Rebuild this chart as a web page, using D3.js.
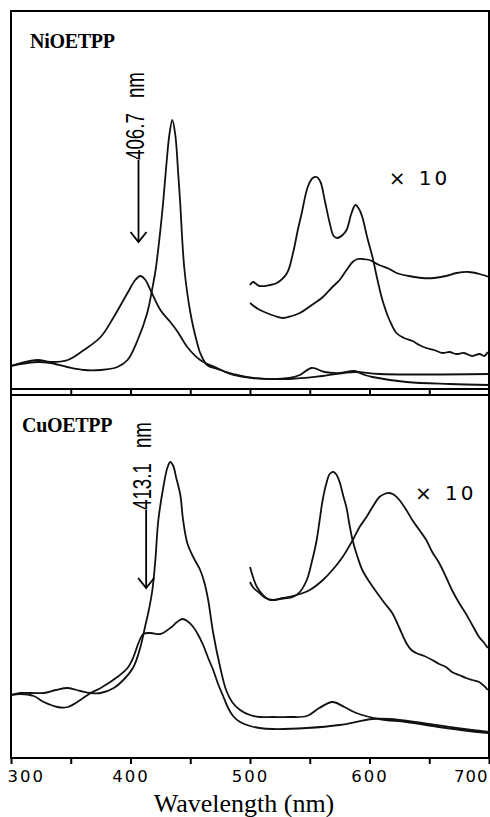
<!DOCTYPE html>
<html>
<head>
<meta charset="utf-8">
<script src="https://cdn.jsdelivr.net/npm/d3@7"></script>
<style>
  body { margin: 0; background: #fff; }
  svg { display: block; }
</style>
</head>
<body>
<div id="chart"></div>
<script>
// wavelength axis
const tickValues = [300, 350, 400, 450, 500, 550, 600, 650, 700];
const tickLabels = [300, 400, 500, 600, 700];

// NiOETPP (top panel), [wavelength nm, absorbance arb.]
const niSharp = [
  [300, 0.115], [308, 0.125], [322, 0.135], [333, 0.13], [347, 0.11], [361, 0.095],
  [375, 0.095], [389, 0.11], [397.5, 0.145], [406, 0.245], [414, 0.38], [418, 0.495],
  [421, 0.595], [425, 0.795], [427.5, 0.945], [430, 1.12], [432.5, 1.27], [435, 1.345],
  [437.5, 1.27], [440, 1.07], [441.7, 0.92], [443.3, 0.745], [445, 0.605], [447.5, 0.48],
  [450, 0.385], [452.5, 0.31], [455.8, 0.23], [458.3, 0.18], [464, 0.12], [472.5, 0.10],
  [486, 0.075], [502.5, 0.055], [533, 0.055], [541.7, 0.07], [551.7, 0.105], [562.5, 0.085],
  [575, 0.08], [587.5, 0.09], [596, 0.07], [602.5, 0.06], [631, 0.035], [667, 0.025], [700, 0.02]
];
const niBroad = [
  [300, 0.115], [308, 0.13], [322.5, 0.145], [333, 0.135], [347.5, 0.145], [361, 0.195],
  [375, 0.26], [386, 0.36], [397.5, 0.48], [404, 0.545], [408.3, 0.565], [412.5, 0.545],
  [416.7, 0.495], [425, 0.395], [433.3, 0.335], [439, 0.29], [447.5, 0.21], [458.3, 0.145],
  [472.5, 0.105], [486, 0.07], [502.5, 0.055], [533, 0.05], [561, 0.065], [587.5, 0.085],
  [608, 0.075], [700, 0.075]
];
const niSharpX10 = [
  [500, 0.52], [502.5, 0.535], [508, 0.515], [516.7, 0.52], [522.5, 0.53], [531, 0.58],
  [536, 0.68], [540, 0.795], [543.3, 0.88], [548.3, 1.01], [552.5, 1.055], [555.8, 1.06],
  [559, 1.035], [562.5, 0.945], [566.7, 0.83], [570, 0.765], [573, 0.755], [577.5, 0.77],
  [580.8, 0.795], [585, 0.88], [588.3, 0.92], [591.7, 0.895], [594, 0.86], [598, 0.76],
  [602.5, 0.66], [606.7, 0.545], [610.8, 0.445], [616.7, 0.345], [622.5, 0.28], [629, 0.255],
  [636, 0.24], [641.7, 0.22], [647.5, 0.205], [654, 0.195], [661, 0.18], [667, 0.185],
  [672.5, 0.175], [679, 0.18], [686, 0.165], [692, 0.175], [696, 0.165], [699, 0.185]
];
const niBroadX10 = [
  [500, 0.43], [506.7, 0.40], [514, 0.38], [520.8, 0.365], [527.5, 0.355], [535, 0.365],
  [541.7, 0.38], [551.7, 0.42], [561, 0.46], [569, 0.51], [575, 0.545], [580.8, 0.595],
  [585.8, 0.635], [590, 0.65], [594, 0.65], [600, 0.645], [608, 0.62], [616.7, 0.60],
  [622.5, 0.58], [633, 0.565], [644, 0.555], [654, 0.555], [664, 0.565], [673, 0.58],
  [683, 0.585], [692, 0.575], [700, 0.56]
];

// CuOETPP (bottom panel)
const cuSharp = [
  [300, 0.315], [308, 0.325], [316.7, 0.325], [327.5, 0.325], [337.5, 0.34], [347.5, 0.35],
  [358, 0.335], [366.7, 0.325], [375, 0.325], [386, 0.35], [394, 0.39], [402.5, 0.455],
  [408.3, 0.555], [412.5, 0.665], [415, 0.73], [418.3, 0.84], [420.8, 0.99], [423.3, 1.19],
  [427.5, 1.355], [430.8, 1.45], [433.3, 1.48], [435.8, 1.46], [438.3, 1.40], [441.7, 1.315],
  [444, 1.19], [447.5, 1.075], [452.5, 1.005], [458.3, 0.94], [461.7, 0.88], [465, 0.79],
  [469.2, 0.625], [475, 0.455], [480, 0.34], [485, 0.28], [491.7, 0.24], [500, 0.215],
  [508, 0.205], [519, 0.205], [533, 0.205], [547.5, 0.21], [558, 0.25], [569, 0.28],
  [579, 0.255], [589, 0.225], [608, 0.195], [631, 0.18], [658, 0.155], [683, 0.135], [700, 0.125]
];
const cuBroad = [
  [300, 0.315], [308, 0.32], [319, 0.31], [327.5, 0.28], [339, 0.255], [347.5, 0.255],
  [358, 0.29], [366.7, 0.325], [375, 0.35], [389, 0.405], [397.5, 0.45], [402.5, 0.505],
  [406.7, 0.575], [410.8, 0.62], [416.7, 0.625], [425, 0.62], [433.3, 0.65], [439, 0.68],
  [443.3, 0.695], [447.5, 0.685], [452.5, 0.655], [456.7, 0.615], [460.8, 0.565], [465, 0.50],
  [469.2, 0.44], [473.3, 0.37], [477.5, 0.31], [481.7, 0.25], [485.8, 0.21], [491.7, 0.18],
  [500, 0.16], [508, 0.15], [519, 0.145], [547.5, 0.15], [575, 0.165], [602.5, 0.195],
  [616.7, 0.195], [644, 0.175], [672.5, 0.15], [700, 0.13]
];
const cuSharpX10 = [
  [500, 0.955], [502.5, 0.905], [505.8, 0.855], [510.8, 0.815], [516.7, 0.79], [525, 0.795],
  [535.8, 0.805], [541.7, 0.83], [547.5, 0.89], [551.7, 0.98], [555.8, 1.09], [558.3, 1.19],
  [560.8, 1.29], [564, 1.375], [566.7, 1.42], [570, 1.43], [572.5, 1.415], [575, 1.38],
  [578.3, 1.305], [580.8, 1.25], [583.3, 1.165], [585.8, 1.09], [590, 1.005], [594, 0.94],
  [600, 0.88], [605.8, 0.83], [612.5, 0.775], [619, 0.725], [625, 0.65], [630.8, 0.575],
  [635, 0.54], [639, 0.525], [645.8, 0.51], [652.5, 0.49], [658.3, 0.47], [664, 0.455],
  [669, 0.43], [675, 0.415], [680.8, 0.40], [686, 0.39], [691.7, 0.38], [696, 0.36], [699, 0.34]
];
const cuBroadX10 = [
  [500, 0.88], [503, 0.85], [508, 0.825], [513, 0.80], [519, 0.79], [527.5, 0.80],
  [539, 0.815], [550, 0.84], [561, 0.89], [569, 0.94], [577.5, 1.005], [586, 1.09],
  [591.7, 1.155], [597.5, 1.205], [602.5, 1.255], [608.3, 1.305], [612.5, 1.32], [616.7, 1.325],
  [620.8, 1.315], [625, 1.29], [630.8, 1.24], [635.8, 1.19], [641.7, 1.14], [647.5, 1.09],
  [652.5, 1.03], [658.3, 0.975], [664, 0.905], [669, 0.84], [675, 0.775], [680.8, 0.72],
  [686, 0.665], [691.7, 0.605], [696, 0.575], [699, 0.55]
];

// marked Soret maxima
const niMark = 406.7;
const cuMark = 413.1;

const W = 490, H = 817;
const svg = d3.select("#chart").append("svg")
  .attr("width", W).attr("height", H);

const x = d3.scaleLinear().domain([300, 700]).range([11, 489]);
const yTop = d3.scaleLinear().domain([0, 1.89]).range([389, 11]);
const yBot = d3.scaleLinear().domain([0, 1.815]).range([758, 395]);

// frames
svg.append("rect")
  .attr("x", 11).attr("y", 11).attr("width", 478).attr("height", 747)
  .attr("fill", "none").attr("stroke", "#000").attr("stroke-width", 2);
svg.append("line").attr("x1", 11).attr("x2", 489).attr("y1", 389).attr("y2", 389)
  .attr("stroke", "#000").attr("stroke-width", 2);
svg.append("line").attr("x1", 11).attr("x2", 489).attr("y1", 395).attr("y2", 395)
  .attr("stroke", "#000").attr("stroke-width", 2);

// top panel ticks (between the two lines)
const topAxis = svg.append("g")
  .attr("transform", "translate(0,389)")
  .call(d3.axisBottom(x).tickValues(tickValues.slice(1, -1)).tickSize(6).tickSizeOuter(0).tickFormat(""));
topAxis.select(".domain").remove();
topAxis.selectAll("line").attr("stroke-width", 2);

// bottom axis
const botAxis = svg.append("g")
  .attr("transform", "translate(0,758)")
  .call(d3.axisBottom(x).tickValues(tickValues).tickSize(6).tickSizeOuter(0)
    .tickFormat(d => tickLabels.includes(d) ? d : ""));
botAxis.select(".domain").remove();
botAxis.selectAll("line").attr("stroke-width", 2);
botAxis.selectAll("text")
  .attr("font-family", "DejaVu Sans, sans-serif")
  .attr("font-size", 16.5)
  .attr("letter-spacing", 2)
  .attr("fill", "#000")
  .attr("dy", 0).attr("y", 24);
botAxis.selectAll(".tick").filter(d => d === 300).select("text")
  .attr("text-anchor", "start").attr("x", -4);
botAxis.selectAll(".tick").filter(d => d === 700).select("text")
  .attr("text-anchor", "end").attr("letter-spacing", 1).attr("x", -1);

svg.append("text")
  .attr("x", 244).attr("y", 812)
  .attr("text-anchor", "middle")
  .attr("font-family", "Liberation Serif, Times New Roman, serif")
  .attr("font-size", 26)
  .text("Wavelength (nm)");

// spectra
function drawLine(data, y) {
  svg.append("path")
    .datum(data)
    .attr("fill", "none")
    .attr("stroke", "#111")
    .attr("stroke-width", 1.8)
    .attr("stroke-linejoin", "round")
    .attr("d", d3.line()
      .x(d => x(d[0]))
      .y(d => y(d[1]))
      .curve(d3.curveCatmullRom.alpha(0.5)));
}
[niSharp, niBroad, niSharpX10, niBroadX10].forEach(d => drawLine(d, yTop));
[cuSharp, cuBroad, cuSharpX10, cuBroadX10].forEach(d => drawLine(d, yBot));

// panel labels
function serifLabel(tx, ty, s) {
  svg.append("text").attr("x", tx).attr("y", ty)
    .attr("font-family", "Liberation Serif, Times New Roman, serif")
    .attr("font-size", 20)
    .attr("font-weight", "bold")
    .attr("letter-spacing", -0.3)
    .text(s);
}
serifLabel(30, 48, "NiOETPP");
serifLabel(22, 432, "CuOETPP");

// x 10 labels
function x10Label(tx, ty) {
  const t = svg.append("text").attr("y", ty)
    .attr("font-family", "DejaVu Sans, sans-serif")
    .attr("font-size", 20);
  t.append("tspan").attr("x", tx - 1).text("×");
  t.append("tspan").attr("x", tx + 29).attr("letter-spacing", 3).text("10");
}
x10Label(x(617), yTop(1.02));
x10Label(x(639), yBot(1.29));

// arrows with rotated labels
function arrow(wl, y, vTop, vTip, label) {
  const ax = x(wl), y0 = y(vTop), y1 = y(vTip);
  svg.append("line").attr("x1", ax).attr("x2", ax).attr("y1", y0).attr("y2", y1)
    .attr("stroke", "#000").attr("stroke-width", 1.8);
  svg.append("path")
    .attr("d", `M${ax - 8},${y1 - 10}L${ax},${y1}L${ax + 8},${y1 - 10}`)
    .attr("fill", "none").attr("stroke", "#000").attr("stroke-width", 1.8);
  const t = svg.append("text")
    .attr("transform", `translate(${ax + 5},${y0}) rotate(-90) scale(0.75,1)`)
    .attr("font-family", "Liberation Sans, Arial, sans-serif")
    .attr("font-size", 25);
  t.append("tspan").text(label[0]);
  t.append("tspan").attr("dx", 20).text(label[1]);
}
arrow(niMark, yTop, 1.145, 0.735, [niMark.toFixed(1), "nm"]);
arrow(cuMark, yBot, 1.24, 0.85, [cuMark.toFixed(1), "nm"]);
</script>
</body>
</html>
